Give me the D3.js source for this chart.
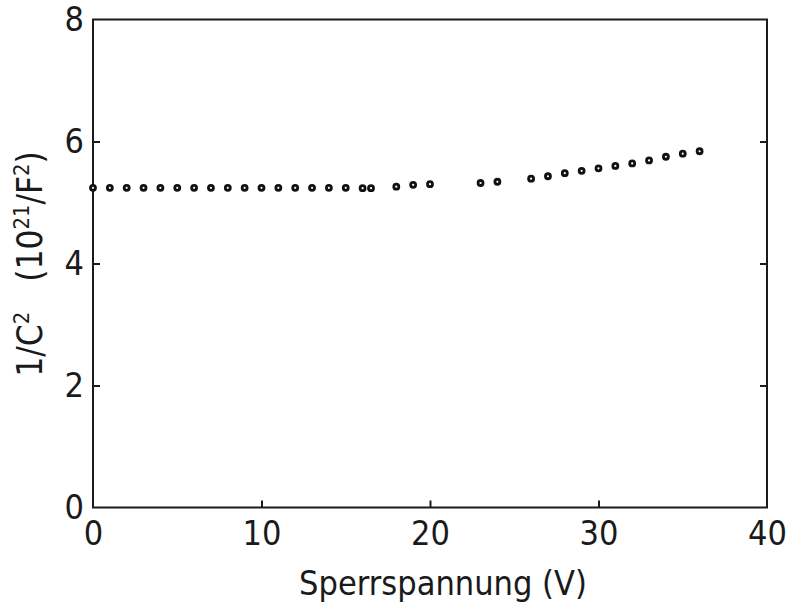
<!DOCTYPE html>
<html><head><meta charset="utf-8">
<script src="https://cdn.jsdelivr.net/npm/d3@7"></script>
<style>
html,body{margin:0;padding:0;background:#fff;}
text{font-family:"Liberation Sans Narrow","DejaVu Sans Condensed","Liberation Sans",sans-serif;fill:#1a1a1a;}
</style></head>
<body>
<svg id="chart" width="788" height="607"></svg>
<script>
const voltage = [0,1,2,3,4,5,6,7,8,9,10,11,12,13,14,15,16,16.5,18,19,20,23,24,26,27,28,29,30,31,32,33,34,35,36];
const invC2 = [5.24,5.24,5.24,5.24,5.24,5.24,5.24,5.24,5.24,5.24,5.24,5.24,5.24,5.24,5.24,5.24,5.235,5.235,5.26,5.29,5.30,5.32,5.34,5.39,5.43,5.48,5.52,5.56,5.60,5.64,5.69,5.75,5.80,5.84];
const xTicks = [0,10,20,30,40];
const yTicks = [0,2,4,6,8];
const xLabel = "Sperrspannung (V)";

const svg = d3.select("#chart");
const m = {left:93, right:21, top:19.5, bottom:99.5};
const W = 788, H = 607;
const x = d3.scaleLinear().domain([0,40]).range([m.left, W-m.right]);
const y = d3.scaleLinear().domain([0,8]).range([H-m.bottom, m.top]);
const ink = "#1a1a1a";

// frame
svg.append("rect").attr("x",x(0)).attr("y",y(8)).attr("width",x(40)-x(0)).attr("height",y(0)-y(8))
  .attr("fill","none").attr("stroke",ink).attr("stroke-width",2);

// axes
const fs = 34;
const xAxis = d3.axisBottom(x).tickValues(xTicks).tickSize(-7).tickPadding(13).tickFormat(d3.format("d"));
const gx = svg.append("g").attr("transform",`translate(0,${y(0)})`).call(xAxis);
const yAxis = d3.axisLeft(y).tickValues(yTicks).tickSize(-7).tickPadding(9).tickFormat(d3.format("d"));
const gy = svg.append("g").attr("transform",`translate(${x(0)},0)`).call(yAxis);
const yAxisR = d3.axisRight(y).tickValues(yTicks).tickSize(-7).tickFormat("");
const gyr = svg.append("g").attr("transform",`translate(${x(40)},0)`).call(yAxisR);
[gx,gy,gyr].forEach(g=>{
  g.select(".domain").remove();
  g.selectAll("line").attr("stroke",ink).attr("stroke-width",2);
  g.selectAll("text").attr("font-size",fs).attr("font-family",null).attr("fill",ink);
});
gx.selectAll(".tick").filter(d=>d===0||d===40).select("line").remove();
gy.selectAll(".tick").filter(d=>d===0||d===8).select("line").remove();
gyr.selectAll(".tick").filter(d=>d===0||d===8).select("line").remove();

// points
svg.append("g").selectAll("circle").data(voltage).join("circle")
  .attr("cx",(d)=>x(d)).attr("cy",(d,i)=>y(invC2[i])).attr("r",2.5)
  .attr("fill","#fff").attr("stroke","#111").attr("stroke-width",2.8);

// x label
svg.append("text").attr("x",(x(0)+x(40))/2+13).attr("y",595).attr("text-anchor","middle")
  .attr("font-size",fs).text(xLabel);

// y label
const fsy = 35;
const yl = svg.append("text").attr("transform",`translate(42,${264}) rotate(-90)`).attr("text-anchor","middle").attr("font-size",fsy);
const parts = [["1/C",0],["2",1],["   (10",0],["21",1],["/F",0],["2",1],[")",0]];
parts.forEach(([t,s],i)=>{
  const prev = i>0 ? parts[i-1][1] : 0;
  let dy = 0;
  if(s && !prev) dy = -13;
  else if(!s && prev) dy = 13;
  const ts = yl.append("tspan").text(t).attr("dy",dy).style("white-space","pre");
  if(s) ts.attr("font-size",fsy*0.62);
});
</script>
</body></html>
